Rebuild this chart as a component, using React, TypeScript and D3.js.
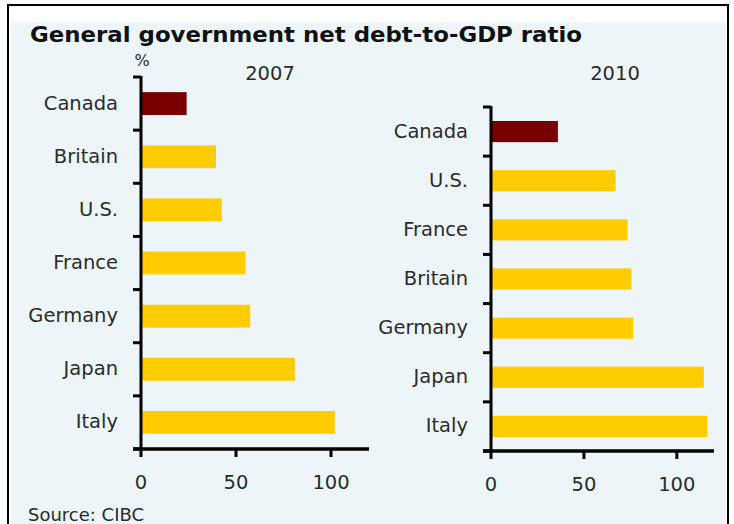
import React from "react";
import * as d3 from "d3";

const title = "General government net debt-to-GDP ratio";
const source = "Source: CIBC";
const unitLabel = "%";

const cats2007 = ["Canada", "Britain", "U.S.", "France", "Germany", "Japan", "Italy"];
const vals2007 = [24, 39.5, 42.5, 55, 57.5, 81, 102];

const cats2010 = ["Canada", "U.S.", "France", "Britain", "Germany", "Japan", "Italy"];
const vals2010 = [36, 67, 73.5, 75.5, 76.5, 114.5, 116.5];

const xTicks = [0, 50, 100];

const W = 734;
const H = 524;
const FONT = "DejaVu Sans, Verdana, sans-serif";
const TEXT = "#2b2b2b";
const YELLOW = "#ffcc00";
const DARK = "#7a0000";

type PanelProps = {
  year: string;
  cats: string[];
  vals: number[];
  x0: number;
  x1: number;
  y0: number;
  y1: number;
  yearX: number;
  showUnit: boolean;
};

function Panel({ year, cats, vals, x0, x1, y0, y1, yearX, showUnit }: PanelProps) {
  const x = d3.scaleLinear().domain([0, 120]).range([x0, x1]);
  const y = d3.scaleBand<string>().domain(cats).range([y0, y1]).paddingInner(0.57).paddingOuter(0.285);
  const step = (y1 - y0) / cats.length;
  const boundaries = d3.range(cats.length + 1).map((i) => y0 + i * step);
  return (
    <g>
      <text x={yearX} y={80} textAnchor="middle" fontFamily={FONT} fontSize={19.5} fill={TEXT}>
        {year}
      </text>
      {showUnit && (
        <text x={x0 + 1} y={66} textAnchor="middle" fontFamily={FONT} fontSize={16} fill={TEXT}>
          {unitLabel}
        </text>
      )}
      {cats.map((c, i) => (
        <g key={c}>
          <rect
            x={x(0) + 1}
            y={y(c)!}
            width={x(vals[i]) - x(0) - 1}
            height={y.bandwidth()}
            fill={c === "Canada" ? DARK : YELLOW}
          />
          <text
            x={x0 - 23}
            y={y(c)! + y.bandwidth() / 2 - 1}
            dy="0.36em"
            textAnchor="end"
            fontFamily={FONT}
            fontSize={19.5}
            fill={TEXT}
          >
            {c}
          </text>
        </g>
      ))}
      {/* y axis */}
      <line x1={x0} x2={x0} y1={y0 - 1} y2={y1 + 1.5} stroke="#000" strokeWidth={3} />
      {boundaries.map((b, i) => (
        <line key={i} x1={x0 - 8} x2={x0} y1={b} y2={b} stroke="#000" strokeWidth={3} />
      ))}
      {/* x axis */}
      <line x1={x0 - 8} x2={x1} y1={y1} y2={y1} stroke="#000" strokeWidth={3.5} />
      {xTicks.map((t) => (
        <g key={t}>
          <line x1={x(t)} x2={x(t)} y1={y1} y2={y1 + 8} stroke="#000" strokeWidth={3} />
          <text x={x(t)} y={y1 + 40} textAnchor="middle" fontFamily={FONT} fontSize={19.5} fill={TEXT}>
            {t}
          </text>
        </g>
      ))}
    </g>
  );
}

export default function App() {
  return (
    <svg
      width={W}
      height={H}
      viewBox={`0 0 ${W} ${H}`}
      style={{ position: "absolute", left: 0, top: 0, display: "block" }}
    >
      <rect x={0} y={0} width={W} height={H} fill="#ffffff" />
      <rect x={11} y={22} width={715} height={H - 22} fill="#edf5f9" />
      <path d={`M8,${H} V5 H728 V${H}`} fill="none" stroke="#000" strokeWidth={2} />
      <text
        x={30}
        y={42}
        fontFamily={FONT}
        fontWeight="bold"
        fontSize={22}
        fill="#111"
        textLength={552}
        lengthAdjust="spacingAndGlyphs"
      >
        {title}
      </text>
      <Panel year="2007" cats={cats2007} vals={vals2007} x0={141} x1={369} y0={77} y1={449} yearX={270} showUnit />
      <Panel year="2010" cats={cats2010} vals={vals2010} x0={491} x1={714} y0={107} y1={451} yearX={615} showUnit={false} />
      <text x={28} y={521} fontFamily={FONT} fontSize={18} fill={TEXT}>
        {source}
      </text>
    </svg>
  );
}
